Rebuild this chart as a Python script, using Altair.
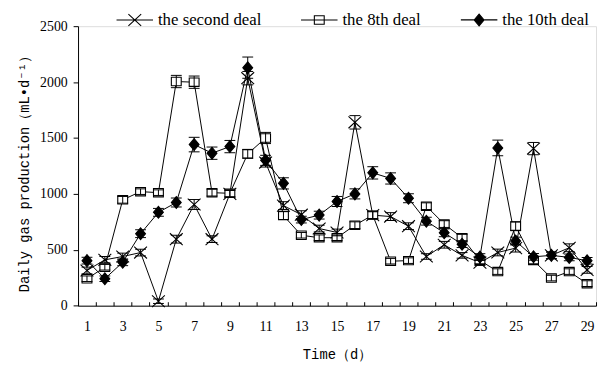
import altair as alt
import pandas as pd

days = list(range(1, 30))
series_names = ["the second deal", "the 8th deal", "the 10th deal"]

second = [315, 410, 440, 475, 40, 595, 905, 595, 1000, 2035, 1280, 895, 814, 690, 655,
          1640, 810, 797, 711, 440, 545, 450, 385, 476, 515, 1405, 450, 518, 320]
eighth = [241, 344, 947, 1020, 1011, 2005, 1999, 1011, 1005, 1358, 1500, 806, 630, 608, 608,
          720, 810, 398, 403, 890, 730, 608, 405, 305, 711, 405, 247, 305, 197]
tenth = [403, 241, 388, 644, 835, 923, 1441, 1364, 1423, 2129, 1300, 1094, 770, 810, 932,
         1000, 1188, 1138, 961, 756, 652, 550, 435, 1411, 578, 437, 450, 432, 402]

second_err = [30, 30, 30, 30, 20, 35, 45, 30, 30, 60, 40, 35, 35, 30, 30,
              60, 35, 35, 30, 25, 30, 25, 25, 30, 35, 55, 30, 35, 30]
eighth_err = [25, 25, 30, 25, 25, 55, 55, 30, 30, 40, 50, 35, 25, 25, 25,
              30, 30, 25, 25, 30, 30, 30, 30, 25, 40, 30, 25, 25, 25]
tenth_err = [30, 25, 30, 35, 35, 40, 65, 55, 55, 95, 45, 50, 30, 35, 45,
             45, 55, 50, 40, 35, 35, 30, 30, 70, 35, 30, 30, 30, 30]

y_ticks = [0, 500, 1000, 1500, 2000, 2500]

marker_paths = [
    "M-1.3,-1.2L1.3,1.2M-1.3,1.2L1.3,-1.2",
    "M-1,-0.85H1V0.85H-1Z",
    "M0,-1.2L1,0L0,1.2L-1,0Z",
]
marker_fills = ["white", "white", "black"]
legend_paths = [
    "M-1,0H1M-0.35,-0.32L0.35,0.32M-0.35,0.32L0.35,-0.32",
    "M-1,0H1M-0.27,-0.23H0.27V0.23H-0.27Z",
    "M-1,0H1M0,-0.324L0.27,0L0,0.324L-0.27,0Z",
]

rows = []
for name, vals, errs in zip(series_names, [second, eighth, tenth],
                            [second_err, eighth_err, tenth_err]):
    for d, v, e in zip(days, vals, errs):
        rows.append({"day": d, "series": name, "value": v,
                     "lo": v - e, "hi": v + e})
df = pd.DataFrame(rows)

serif = "Liberation Serif, Times New Roman, serif"
mono = "Liberation Mono, Courier New, monospace"

x_axis = alt.Axis(
    title="Time（d）", labelAngle=0, tickBand="extent",
    labelExpr="datum.value % 2 == 1 ? datum.label : ''",
    tickSize=alt.ExprRef(expr="-4"), labelPadding=18,
    labelFont=serif, labelFontSize=14, labelColor="black",
    titleFont=mono, titleFontSize=14, titleFontWeight="normal", titleColor="black",
    titleY=50, titleBaseline="middle",
    domainColor="black", tickColor="black", grid=False,
)
y_axis = alt.Axis(
    title="Daily gas production（mL•d⁻¹）", values=y_ticks, format="d",
    tickSize=5, labelPadding=6,
    labelFont=serif, labelFontSize=14, labelColor="black",
    titleFont=mono, titleFontSize=14, titleFontWeight="normal", titleColor="black",
    titleX=-54, titleY=146, titleBaseline="middle", titleAlign="center",
    domainColor="black", tickColor="black", grid=False,
)
x_scale = alt.Scale(type="band", paddingInner=0, paddingOuter=0)
y_scale = alt.Scale(domain=[0, 2500], nice=False)

def X():
    return alt.X("day:O", scale=x_scale, axis=x_axis)

def Y(field):
    return alt.Y(field, type="quantitative", scale=y_scale, axis=y_axis)

base = alt.Chart(df)

lines = base.mark_line(color="black", strokeWidth=1).encode(
    x=X(), y=Y("value"), detail="series:N"
)

layers = [lines]
for name, path, fill in zip(series_names, marker_paths, marker_fills):
    layers.append(
        base.transform_filter(alt.datum.series == name).mark_point(
            shape=path, size=100, fill=fill, stroke="black", strokeWidth=1.1,
            opacity=1, fillOpacity=1, strokeOpacity=1
        ).encode(x=X(), y=Y("value"))
    )

err_rule = base.mark_rule(color="black", strokeWidth=1).encode(
    x=X(), y=Y("lo"), y2="hi:Q"
)
cap_lo = base.mark_tick(color="black", size=11, thickness=1, opacity=1).encode(
    x=X(), y=Y("lo")
)
cap_hi = base.mark_tick(color="black", size=11, thickness=1, opacity=1).encode(
    x=X(), y=Y("hi")
)
layers += [err_rule, cap_lo, cap_hi]

leg = alt.Legend(
    orient="none", legendX=38, legendY=-26, direction="horizontal", title=None,
    symbolSize=1369, symbolStrokeWidth=1.1, symbolOpacity=1,
    labelFont=serif, labelFontSize=17, labelColor="black", labelOffset=4,
    columnPadding=37, padding=0,
)
legend_layer = base.transform_filter("false").mark_point(
    stroke="black", strokeWidth=1.1, opacity=1, fillOpacity=1
).encode(
    x=X(), y=Y("value"),
    shape=alt.Shape("series:N", scale=alt.Scale(domain=series_names, range=legend_paths), legend=leg),
    fill=alt.Fill("series:N", scale=alt.Scale(domain=series_names, range=marker_fills), legend=leg),
)
layers.append(legend_layer)

chart = alt.layer(*layers).properties(
    width=525, height=283.3,
    autosize=alt.AutoSizeParams(type="none"),
    padding={"left": 71, "top": 16, "right": 2, "bottom": 58},
).configure_view(stroke=None).configure(background="white")

chart.save("out.html", embed_options={"renderer": "svg", "actions": False})
